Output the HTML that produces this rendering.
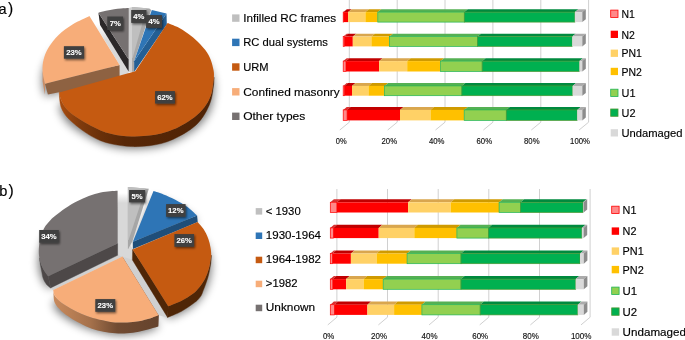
<!DOCTYPE html><html><head><meta charset="utf-8"><title>Figure</title><style>html,body{margin:0;padding:0;background:#fff}svg{display:block}text{stroke:#000;stroke-width:.15px}text.w{stroke:#fff;stroke-width:.1px}</style></head><body><svg width="685" height="340" viewBox="0 0 685 340" font-family="'Liberation Sans', Arial, sans-serif">
<defs>
<filter id="blur" x="-20%" y="-20%" width="140%" height="140%"><feGaussianBlur stdDeviation="4.6"/></filter>
<filter id="ls" x="-30%" y="-30%" width="170%" height="180%"><feDropShadow dx="1" dy="1.4" stdDeviation="1.1" flood-color="#000" flood-opacity="0.55"/></filter>
<linearGradient id="gA" gradientUnits="userSpaceOnUse" x1="60" y1="0" x2="214" y2="0"><stop offset="0" stop-color="#a94c0e"/><stop offset="0.13" stop-color="#7f3b0d"/><stop offset="0.26" stop-color="#6a3009"/><stop offset="0.42" stop-color="#572707"/><stop offset="1" stop-color="#4f2306"/></linearGradient>
<linearGradient id="gB" gradientUnits="userSpaceOnUse" x1="53" y1="0" x2="160" y2="0"><stop offset="0" stop-color="#c98a5c"/><stop offset="0.35" stop-color="#a5714b"/><stop offset="0.6" stop-color="#714b32"/><stop offset="1" stop-color="#65432d"/></linearGradient>
<linearGradient id="gGap" gradientUnits="userSpaceOnUse" x1="0" y1="193" x2="0" y2="203"><stop offset="0" stop-color="#fff"/><stop offset="1" stop-color="#d8d8d8"/></linearGradient>
<linearGradient id="gGapA" gradientUnits="userSpaceOnUse" x1="0" y1="24" x2="0" y2="40"><stop offset="0" stop-color="#fff"/><stop offset="1" stop-color="#d9d9d9"/></linearGradient>
</defs>
<rect width="685" height="340" fill="#fff"/>
<text x="-1.4" y="13.9" font-size="14.6">a<tspan x="8.1" y="13.6" font-size="15.6">)</tspan></text>
<text x="-0.8" y="196" font-size="14.6">b<tspan x="8.5" y="195.7" font-size="15.6">)</tspan></text>
<path d="M349.3 0 V122.2 L339.8 130" fill="none" stroke="#d0d0d0" stroke-width="1"/><path d="M397.2 0 V122.2 L387.7 130" fill="none" stroke="#d0d0d0" stroke-width="1"/><path d="M445 0 V122.2 L435.5 130" fill="none" stroke="#d0d0d0" stroke-width="1"/><path d="M492.9 0 V122.2 L483.4 130" fill="none" stroke="#d0d0d0" stroke-width="1"/><path d="M540.8 0 V122.2 L531.3 130" fill="none" stroke="#d0d0d0" stroke-width="1"/><path d="M588.6 0 V122.2 L579.1 130" fill="none" stroke="#d0d0d0" stroke-width="1"/><path d="M343.2,12.1 L346.7,9.3 L347,9.3 L343.5,12.1 Z" fill="#d93030" /><rect x="343.2" y="12.1" width="0.3" height="10" fill="#ff8989" stroke="#ff0000" stroke-width="0.7"/><path d="M343.5,12.1 L347,9.3 L351.6,9.3 L348.1,12.1 Z" fill="#c00000" /><rect x="343.5" y="12.1" width="4.6" height="10" fill="#ff0000" /><path d="M348.1,12.1 L351.6,9.3 L368.9,9.3 L365.4,12.1 Z" fill="#d9a64e" /><rect x="348.1" y="12.1" width="17.3" height="10" fill="#ffd166" /><path d="M365.4,12.1 L368.9,9.3 L381.3,9.3 L377.8,12.1 Z" fill="#cf9a00" /><rect x="365.4" y="12.1" width="12.4" height="10" fill="#ffc000" /><path d="M377.8,12.1 L381.3,9.3 L467.8,9.3 L464.3,12.1 Z" fill="#55b053" /><rect x="377.8" y="12.1" width="86.5" height="10" fill="#92d050" stroke="#1fb455" stroke-width="0.7"/><path d="M464.3,12.1 L467.8,9.3 L578.4,9.3 L574.9,12.1 Z" fill="#008a3e" /><rect x="464.3" y="12.1" width="110.6" height="10" fill="#00b050" stroke="#4a9832" stroke-width="0.7"/><path d="M574.9,12.1 L578.4,9.3 L585.8,9.3 L582.3,12.1 Z" fill="#ababab" /><rect x="574.9" y="12.1" width="7.4" height="10" fill="#d9d9d9" /><path d="M582.3,12.1 L585.8,9.3 L585.8,19.3 L582.3,22.1 Z" fill="#8c8c8c" /><path d="M343.2,36.6 L346.7,33.8 L348,33.8 L344.5,36.6 Z" fill="#d93030" /><rect x="343.2" y="36.6" width="1.3" height="9.8" fill="#ff8989" stroke="#ff0000" stroke-width="0.7"/><path d="M344.5,36.6 L348,33.8 L356.3,33.8 L352.8,36.6 Z" fill="#c00000" /><rect x="344.5" y="36.6" width="8.3" height="9.8" fill="#ff0000" /><path d="M352.8,36.6 L356.3,33.8 L374.9,33.8 L371.4,36.6 Z" fill="#d9a64e" /><rect x="352.8" y="36.6" width="18.6" height="9.8" fill="#ffd166" /><path d="M371.4,36.6 L374.9,33.8 L393,33.8 L389.5,36.6 Z" fill="#cf9a00" /><rect x="371.4" y="36.6" width="18.1" height="9.8" fill="#ffc000" /><path d="M389.5,36.6 L393,33.8 L481,33.8 L477.5,36.6 Z" fill="#55b053" /><rect x="389.5" y="36.6" width="88" height="9.8" fill="#92d050" stroke="#1fb455" stroke-width="0.7"/><path d="M477.5,36.6 L481,33.8 L575.7,33.8 L572.2,36.6 Z" fill="#008a3e" /><rect x="477.5" y="36.6" width="94.7" height="9.8" fill="#00b050" stroke="#4a9832" stroke-width="0.7"/><path d="M572.2,36.6 L575.7,33.8 L585.8,33.8 L582.3,36.6 Z" fill="#ababab" /><rect x="572.2" y="36.6" width="10.1" height="9.8" fill="#d9d9d9" /><path d="M582.3,36.6 L585.8,33.8 L585.8,43.6 L582.3,46.4 Z" fill="#8c8c8c" /><path d="M343.2,61.1 L346.7,58.3 L349.5,58.3 L346,61.1 Z" fill="#d93030" /><rect x="343.2" y="61.1" width="2.8" height="10.4" fill="#ff8989" stroke="#ff0000" stroke-width="0.7"/><path d="M346,61.1 L349.5,58.3 L382.6,58.3 L379.1,61.1 Z" fill="#c00000" /><rect x="346" y="61.1" width="33.1" height="10.4" fill="#ff0000" /><path d="M379.1,61.1 L382.6,58.3 L410.7,58.3 L407.2,61.1 Z" fill="#d9a64e" /><rect x="379.1" y="61.1" width="28.1" height="10.4" fill="#ffd166" /><path d="M407.2,61.1 L410.7,58.3 L444.1,58.3 L440.6,61.1 Z" fill="#cf9a00" /><rect x="407.2" y="61.1" width="33.4" height="10.4" fill="#ffc000" /><path d="M440.6,61.1 L444.1,58.3 L485.7,58.3 L482.2,61.1 Z" fill="#55b053" /><rect x="440.6" y="61.1" width="41.6" height="10.4" fill="#92d050" stroke="#1fb455" stroke-width="0.7"/><path d="M482.2,61.1 L485.7,58.3 L582.9,58.3 L579.4,61.1 Z" fill="#008a3e" /><rect x="482.2" y="61.1" width="97.2" height="10.4" fill="#00b050" stroke="#4a9832" stroke-width="0.7"/><path d="M579.4,61.1 L582.9,58.3 L585.8,58.3 L582.3,61.1 Z" fill="#ababab" /><rect x="579.4" y="61.1" width="2.9" height="10.4" fill="#d9d9d9" /><path d="M582.3,61.1 L585.8,58.3 L585.8,68.7 L582.3,71.5 Z" fill="#8c8c8c" /><path d="M343.2,85.9 L346.7,83.1 L348,83.1 L344.5,85.9 Z" fill="#d93030" /><rect x="343.2" y="85.9" width="1.3" height="9.8" fill="#ff8989" stroke="#ff0000" stroke-width="0.7"/><path d="M344.5,85.9 L348,83.1 L355.5,83.1 L352,85.9 Z" fill="#c00000" /><rect x="344.5" y="85.9" width="7.5" height="9.8" fill="#ff0000" /><path d="M352,85.9 L355.5,83.1 L372,83.1 L368.5,85.9 Z" fill="#d9a64e" /><rect x="352" y="85.9" width="16.5" height="9.8" fill="#ffd166" /><path d="M368.5,85.9 L372,83.1 L388.1,83.1 L384.6,85.9 Z" fill="#cf9a00" /><rect x="368.5" y="85.9" width="16.1" height="9.8" fill="#ffc000" /><path d="M384.6,85.9 L388.1,83.1 L465.4,83.1 L461.9,85.9 Z" fill="#55b053" /><rect x="384.6" y="85.9" width="77.3" height="9.8" fill="#92d050" stroke="#1fb455" stroke-width="0.7"/><path d="M461.9,85.9 L465.4,83.1 L576.1,83.1 L572.6,85.9 Z" fill="#008a3e" /><rect x="461.9" y="85.9" width="110.7" height="9.8" fill="#00b050" stroke="#4a9832" stroke-width="0.7"/><path d="M572.6,85.9 L576.1,83.1 L585.8,83.1 L582.3,85.9 Z" fill="#ababab" /><rect x="572.6" y="85.9" width="9.7" height="9.8" fill="#d9d9d9" /><path d="M582.3,85.9 L585.8,83.1 L585.8,92.9 L582.3,95.7 Z" fill="#8c8c8c" /><path d="M343.2,109.9 L346.7,107.1 L350.6,107.1 L347.1,109.9 Z" fill="#d93030" /><rect x="343.2" y="109.9" width="3.9" height="10.5" fill="#ff8989" stroke="#ff0000" stroke-width="0.7"/><path d="M347.1,109.9 L350.6,107.1 L403.5,107.1 L400,109.9 Z" fill="#c00000" /><rect x="347.1" y="109.9" width="52.9" height="10.5" fill="#ff0000" /><path d="M400,109.9 L403.5,107.1 L434,107.1 L430.5,109.9 Z" fill="#d9a64e" /><rect x="400" y="109.9" width="30.5" height="10.5" fill="#ffd166" /><path d="M430.5,109.9 L434,107.1 L467.7,107.1 L464.2,109.9 Z" fill="#cf9a00" /><rect x="430.5" y="109.9" width="33.7" height="10.5" fill="#ffc000" /><path d="M464.2,109.9 L467.7,107.1 L509.8,107.1 L506.3,109.9 Z" fill="#55b053" /><rect x="464.2" y="109.9" width="42.1" height="10.5" fill="#92d050" stroke="#1fb455" stroke-width="0.7"/><path d="M506.3,109.9 L509.8,107.1 L580.7,107.1 L577.2,109.9 Z" fill="#008a3e" /><rect x="506.3" y="109.9" width="70.9" height="10.5" fill="#00b050" stroke="#4a9832" stroke-width="0.7"/><path d="M577.2,109.9 L580.7,107.1 L585.8,107.1 L582.3,109.9 Z" fill="#ababab" /><rect x="577.2" y="109.9" width="5.1" height="10.5" fill="#d9d9d9" /><path d="M582.3,109.9 L585.8,107.1 L585.8,117.6 L582.3,120.4 Z" fill="#8c8c8c" /><text x="341.2" y="143.8" font-size="8.7" text-anchor="middle" fill="#1a1a1a" textLength="10.9" lengthAdjust="spacingAndGlyphs">0%</text><text x="389.3" y="143.8" font-size="8.7" text-anchor="middle" fill="#1a1a1a" textLength="15.5" lengthAdjust="spacingAndGlyphs">20%</text><text x="436.7" y="143.8" font-size="8.7" text-anchor="middle" fill="#1a1a1a" textLength="15.5" lengthAdjust="spacingAndGlyphs">40%</text><text x="484.3" y="143.8" font-size="8.7" text-anchor="middle" fill="#1a1a1a" textLength="15.5" lengthAdjust="spacingAndGlyphs">60%</text><text x="531.8" y="143.8" font-size="8.7" text-anchor="middle" fill="#1a1a1a" textLength="15.5" lengthAdjust="spacingAndGlyphs">80%</text><text x="580" y="143.8" font-size="8.7" text-anchor="middle" fill="#1a1a1a" textLength="19.8" lengthAdjust="spacingAndGlyphs">100%</text>
<path d="M336.9 189 V317.2 L327.8 324.9" fill="none" stroke="#d0d0d0" stroke-width="1"/><path d="M387.5 189 V317.2 L378.4 324.9" fill="none" stroke="#d0d0d0" stroke-width="1"/><path d="M438.2 189 V317.2 L429.1 324.9" fill="none" stroke="#d0d0d0" stroke-width="1"/><path d="M488.8 189 V317.2 L479.7 324.9" fill="none" stroke="#d0d0d0" stroke-width="1"/><path d="M539.5 189 V317.2 L530.4 324.9" fill="none" stroke="#d0d0d0" stroke-width="1"/><path d="M590.1 189 V317.2 L581 324.9" fill="none" stroke="#d0d0d0" stroke-width="1"/><path d="M330.3,202.3 L333.9,199.2 L340.5,199.2 L336.9,202.3 Z" fill="#d93030" /><rect x="330.3" y="202.3" width="6.6" height="10.2" fill="#ff8989" stroke="#ff0000" stroke-width="0.7"/><path d="M336.9,202.3 L340.5,199.2 L411.7,199.2 L408.1,202.3 Z" fill="#c00000" /><rect x="336.9" y="202.3" width="71.2" height="10.2" fill="#ff0000" /><path d="M408.1,202.3 L411.7,199.2 L454.3,199.2 L450.7,202.3 Z" fill="#d9a64e" /><rect x="408.1" y="202.3" width="42.6" height="10.2" fill="#ffd166" /><path d="M450.7,202.3 L454.3,199.2 L502.7,199.2 L499.1,202.3 Z" fill="#cf9a00" /><rect x="450.7" y="202.3" width="48.4" height="10.2" fill="#ffc000" /><path d="M499.1,202.3 L502.7,199.2 L524.1,199.2 L520.5,202.3 Z" fill="#55b053" /><rect x="499.1" y="202.3" width="21.4" height="10.2" fill="#92d050" stroke="#1fb455" stroke-width="0.7"/><path d="M520.5,202.3 L524.1,199.2 L586.6,199.2 L583,202.3 Z" fill="#008a3e" /><rect x="520.5" y="202.3" width="62.5" height="10.2" fill="#00b050" stroke="#4a9832" stroke-width="0.7"/><path d="M583,202.3 L586.6,199.2 L587.2,199.2 L583.6,202.3 Z" fill="#ababab" /><rect x="583" y="202.3" width="0.6" height="10.2" fill="#d9d9d9" /><path d="M583.6,202.3 L587.2,199.2 L587.2,209.4 L583.6,212.5 Z" fill="#8c8c8c" /><path d="M330.3,227.9 L333.9,224.8 L337,224.8 L333.4,227.9 Z" fill="#d93030" /><rect x="330.3" y="227.9" width="3.1" height="10.2" fill="#ff8989" stroke="#ff0000" stroke-width="0.7"/><path d="M333.4,227.9 L337,224.8 L382.3,224.8 L378.7,227.9 Z" fill="#c00000" /><rect x="333.4" y="227.9" width="45.3" height="10.2" fill="#ff0000" /><path d="M378.7,227.9 L382.3,224.8 L417.9,224.8 L414.3,227.9 Z" fill="#d9a64e" /><rect x="378.7" y="227.9" width="35.6" height="10.2" fill="#ffd166" /><path d="M414.3,227.9 L417.9,224.8 L460.5,224.8 L456.9,227.9 Z" fill="#cf9a00" /><rect x="414.3" y="227.9" width="42.6" height="10.2" fill="#ffc000" /><path d="M456.9,227.9 L460.5,224.8 L492,224.8 L488.4,227.9 Z" fill="#55b053" /><rect x="456.9" y="227.9" width="31.5" height="10.2" fill="#92d050" stroke="#1fb455" stroke-width="0.7"/><path d="M488.4,227.9 L492,224.8 L585.5,224.8 L581.9,227.9 Z" fill="#008a3e" /><rect x="488.4" y="227.9" width="93.5" height="10.2" fill="#00b050" stroke="#4a9832" stroke-width="0.7"/><path d="M581.9,227.9 L585.5,224.8 L587.2,224.8 L583.6,227.9 Z" fill="#ababab" /><rect x="581.9" y="227.9" width="1.7" height="10.2" fill="#d9d9d9" /><path d="M583.6,227.9 L587.2,224.8 L587.2,235 L583.6,238.1 Z" fill="#8c8c8c" /><path d="M330.3,253.5 L333.9,250.4 L336,250.4 L332.4,253.5 Z" fill="#d93030" /><rect x="330.3" y="253.5" width="2.1" height="10.2" fill="#ff8989" stroke="#ff0000" stroke-width="0.7"/><path d="M332.4,253.5 L336,250.4 L354.5,250.4 L350.9,253.5 Z" fill="#c00000" /><rect x="332.4" y="253.5" width="18.5" height="10.2" fill="#ff0000" /><path d="M350.9,253.5 L354.5,250.4 L380.2,250.4 L376.6,253.5 Z" fill="#d9a64e" /><rect x="350.9" y="253.5" width="25.7" height="10.2" fill="#ffd166" /><path d="M376.6,253.5 L380.2,250.4 L410.7,250.4 L407.1,253.5 Z" fill="#cf9a00" /><rect x="376.6" y="253.5" width="30.5" height="10.2" fill="#ffc000" /><path d="M407.1,253.5 L410.7,250.4 L464.6,250.4 L461,253.5 Z" fill="#55b053" /><rect x="407.1" y="253.5" width="53.9" height="10.2" fill="#92d050" stroke="#1fb455" stroke-width="0.7"/><path d="M461,253.5 L464.6,250.4 L583.6,250.4 L580,253.5 Z" fill="#008a3e" /><rect x="461" y="253.5" width="119" height="10.2" fill="#00b050" stroke="#4a9832" stroke-width="0.7"/><path d="M580,253.5 L583.6,250.4 L587.4,250.4 L583.8,253.5 Z" fill="#ababab" /><rect x="580" y="253.5" width="3.8" height="10.2" fill="#d9d9d9" /><path d="M583.8,253.5 L587.4,250.4 L587.4,260.6 L583.8,263.7 Z" fill="#8c8c8c" /><path d="M330.3,279.1 L333.9,276 L336.4,276 L332.8,279.1 Z" fill="#d93030" /><rect x="330.3" y="279.1" width="2.5" height="10.2" fill="#ff8989" stroke="#ff0000" stroke-width="0.7"/><path d="M332.8,279.1 L336.4,276 L349.7,276 L346.1,279.1 Z" fill="#c00000" /><rect x="332.8" y="279.1" width="13.3" height="10.2" fill="#ff0000" /><path d="M346.1,279.1 L349.7,276 L367.2,276 L363.6,279.1 Z" fill="#d9a64e" /><rect x="346.1" y="279.1" width="17.5" height="10.2" fill="#ffd166" /><path d="M363.6,279.1 L367.2,276 L386.8,276 L383.2,279.1 Z" fill="#cf9a00" /><rect x="363.6" y="279.1" width="19.6" height="10.2" fill="#ffc000" /><path d="M383.2,279.1 L386.8,276 L464.6,276 L461,279.1 Z" fill="#55b053" /><rect x="383.2" y="279.1" width="77.8" height="10.2" fill="#92d050" stroke="#1fb455" stroke-width="0.7"/><path d="M461,279.1 L464.6,276 L579.3,276 L575.7,279.1 Z" fill="#008a3e" /><rect x="461" y="279.1" width="114.7" height="10.2" fill="#00b050" stroke="#4a9832" stroke-width="0.7"/><path d="M575.7,279.1 L579.3,276 L587.4,276 L583.8,279.1 Z" fill="#ababab" /><rect x="575.7" y="279.1" width="8.1" height="10.2" fill="#d9d9d9" /><path d="M583.8,279.1 L587.4,276 L587.4,286.2 L583.8,289.3 Z" fill="#8c8c8c" /><path d="M330.3,304.7 L333.9,301.6 L338,301.6 L334.4,304.7 Z" fill="#d93030" /><rect x="330.3" y="304.7" width="4.1" height="10.2" fill="#ff8989" stroke="#ff0000" stroke-width="0.7"/><path d="M334.4,304.7 L338,301.6 L371,301.6 L367.4,304.7 Z" fill="#c00000" /><rect x="334.4" y="304.7" width="33" height="10.2" fill="#ff0000" /><path d="M367.4,304.7 L371,301.6 L397.7,301.6 L394.1,304.7 Z" fill="#d9a64e" /><rect x="367.4" y="304.7" width="26.7" height="10.2" fill="#ffd166" /><path d="M394.1,304.7 L397.7,301.6 L425.5,301.6 L421.9,304.7 Z" fill="#cf9a00" /><rect x="394.1" y="304.7" width="27.8" height="10.2" fill="#ffc000" /><path d="M421.9,304.7 L425.5,301.6 L483.8,301.6 L480.2,304.7 Z" fill="#55b053" /><rect x="421.9" y="304.7" width="58.3" height="10.2" fill="#92d050" stroke="#1fb455" stroke-width="0.7"/><path d="M480.2,304.7 L483.8,301.6 L581.4,301.6 L577.8,304.7 Z" fill="#008a3e" /><rect x="480.2" y="304.7" width="97.6" height="10.2" fill="#00b050" stroke="#4a9832" stroke-width="0.7"/><path d="M577.8,304.7 L581.4,301.6 L587.4,301.6 L583.8,304.7 Z" fill="#ababab" /><rect x="577.8" y="304.7" width="6" height="10.2" fill="#d9d9d9" /><path d="M583.8,304.7 L587.4,301.6 L587.4,311.8 L583.8,314.9 Z" fill="#8c8c8c" /><text x="328.6" y="339.3" font-size="8.9" text-anchor="middle" fill="#1a1a1a" textLength="11.4" lengthAdjust="spacingAndGlyphs">0%</text><text x="379.1" y="339.3" font-size="8.9" text-anchor="middle" fill="#1a1a1a" textLength="16" lengthAdjust="spacingAndGlyphs">20%</text><text x="429.5" y="339.3" font-size="8.9" text-anchor="middle" fill="#1a1a1a" textLength="16" lengthAdjust="spacingAndGlyphs">40%</text><text x="480.2" y="339.3" font-size="8.9" text-anchor="middle" fill="#1a1a1a" textLength="16" lengthAdjust="spacingAndGlyphs">60%</text><text x="530.8" y="339.3" font-size="8.9" text-anchor="middle" fill="#1a1a1a" textLength="16" lengthAdjust="spacingAndGlyphs">80%</text><text x="581.2" y="339.3" font-size="8.9" text-anchor="middle" fill="#1a1a1a" textLength="20.6" lengthAdjust="spacingAndGlyphs">100%</text>
<rect x="232.1" y="14.4" width="7.4" height="7.4" fill="#bfbfbf"/><text x="243.2" y="22" font-size="11.6" textLength="93" lengthAdjust="spacingAndGlyphs">Infilled RC frames</text><rect x="232.1" y="38.7" width="7.4" height="7.4" fill="#2e75b6"/><text x="243.2" y="46.3" font-size="11.6" textLength="84.7" lengthAdjust="spacingAndGlyphs">RC dual systems</text><rect x="232.1" y="63.3" width="7.4" height="7.4" fill="#c55a11"/><text x="243.2" y="70.9" font-size="11.6" textLength="25.4" lengthAdjust="spacingAndGlyphs">URM</text><rect x="232.1" y="88.1" width="7.4" height="7.4" fill="#f7ad79"/><text x="243.2" y="95.7" font-size="11.6" textLength="96.5" lengthAdjust="spacingAndGlyphs">Confined masonry</text><rect x="232.1" y="112.6" width="7.4" height="7.4" fill="#767171"/><text x="243.2" y="120.2" font-size="11.6" textLength="62.1" lengthAdjust="spacingAndGlyphs">Other types</text>
<rect x="610.7" y="10.1" width="7.3" height="7.3" fill="#ff8989" stroke="#ff0000" stroke-width="0.8"/><text x="621.5" y="17.9" font-size="11.3" textLength="13.4" lengthAdjust="spacingAndGlyphs">N1</text><rect x="610.7" y="30.7" width="7.3" height="7.3" fill="#ff0000" /><text x="621.5" y="38.5" font-size="11.3" textLength="13.4" lengthAdjust="spacingAndGlyphs">N2</text><rect x="610.7" y="49.6" width="7.3" height="7.3" fill="#ffd166" /><text x="621.5" y="57.4" font-size="11.3" textLength="20.4" lengthAdjust="spacingAndGlyphs">PN1</text><rect x="610.7" y="67.8" width="7.3" height="7.3" fill="#ffc000" /><text x="621.5" y="75.6" font-size="11.3" textLength="20.4" lengthAdjust="spacingAndGlyphs">PN2</text><rect x="610.7" y="89.2" width="7.3" height="7.3" fill="#92d050" stroke="#1fb455" stroke-width="0.8"/><text x="621.5" y="97" font-size="11.3" textLength="14" lengthAdjust="spacingAndGlyphs">U1</text><rect x="610.7" y="109" width="7.3" height="7.3" fill="#00b050" stroke="#4a9832" stroke-width="0.8"/><text x="621.5" y="116.8" font-size="11.3" textLength="14" lengthAdjust="spacingAndGlyphs">U2</text><rect x="610.7" y="129.2" width="7.3" height="7.3" fill="#d9d9d9" /><text x="621.5" y="137" font-size="11.3" textLength="61" lengthAdjust="spacingAndGlyphs">Undamaged</text>
<rect x="255.7" y="208.1" width="6.5" height="6.5" fill="#bfbfbf"/><text x="265.8" y="214.8" font-size="11" textLength="34.9" lengthAdjust="spacingAndGlyphs">&lt; 1930</text><rect x="255.7" y="232.5" width="6.5" height="6.5" fill="#2e75b6"/><text x="265.8" y="239.2" font-size="11" textLength="55.2" lengthAdjust="spacingAndGlyphs">1930-1964</text><rect x="255.7" y="256.7" width="6.5" height="6.5" fill="#c55a11"/><text x="265.8" y="263.4" font-size="11" textLength="55.2" lengthAdjust="spacingAndGlyphs">1964-1982</text><rect x="255.7" y="280.7" width="6.5" height="6.5" fill="#f7ad79"/><text x="265.8" y="287.4" font-size="11" textLength="31.7" lengthAdjust="spacingAndGlyphs">&gt;1982</text><rect x="255.7" y="304.7" width="6.5" height="6.5" fill="#767171"/><text x="265.8" y="311.4" font-size="11" textLength="49.3" lengthAdjust="spacingAndGlyphs">Unknown</text>
<rect x="611.7" y="206.2" width="7.4" height="7.4" fill="#ff8989" stroke="#ff0000" stroke-width="0.8"/><text x="622.6" y="214.1" font-size="11" textLength="13.9" lengthAdjust="spacingAndGlyphs">N1</text><rect x="611.7" y="227.4" width="7.4" height="7.4" fill="#ff0000" /><text x="622.6" y="235.3" font-size="11" textLength="13.9" lengthAdjust="spacingAndGlyphs">N2</text><rect x="611.7" y="247.4" width="7.4" height="7.4" fill="#ffd166" /><text x="622.6" y="255.3" font-size="11" textLength="21.2" lengthAdjust="spacingAndGlyphs">PN1</text><rect x="611.7" y="265.9" width="7.4" height="7.4" fill="#ffc000" /><text x="622.6" y="273.8" font-size="11" textLength="21.2" lengthAdjust="spacingAndGlyphs">PN2</text><rect x="611.7" y="287.1" width="7.4" height="7.4" fill="#92d050" stroke="#1fb455" stroke-width="0.8"/><text x="622.6" y="295" font-size="11" textLength="14.6" lengthAdjust="spacingAndGlyphs">U1</text><rect x="611.7" y="307.9" width="7.4" height="7.4" fill="#00b050" stroke="#4a9832" stroke-width="0.8"/><text x="622.6" y="315.8" font-size="11" textLength="14.6" lengthAdjust="spacingAndGlyphs">U2</text><rect x="611.7" y="328.3" width="7.4" height="7.4" fill="#d9d9d9" /><text x="622.6" y="336.2" font-size="11" textLength="63.4" lengthAdjust="spacingAndGlyphs">Undamaged</text>
<g filter="url(#blur)" opacity="0.55"><path d="M135.3,83.2 L167.6,34.9 C169.3,35.6 174.3,37.4 177.6,39.1C180.8,40.8 184.1,42.9 187.1,44.9C190.1,46.9 192.3,48.5 195.3,51.4C198.3,54.2 202.8,58.7 205.3,62C207.9,65.3 209.2,68.1 210.6,71.4C212,74.7 212.9,79.1 213.5,82C214.1,84.9 214,86.5 213.9,89C213.8,91.5 213.3,94.3 212.9,97C212.5,99.7 212.4,102.3 211.5,105.2C210.6,108.1 209.4,111.5 207.6,114.6C205.8,117.7 203.3,121 200.6,123.8C197.9,126.6 194.8,129 191.2,131.6C187.6,134.2 182.8,137.1 178.8,139.1C174.8,141.1 171,142.5 167.1,143.8C163.2,145.1 159.2,146 155.3,146.7C151.4,147.4 147.4,147.8 143.5,148.1C139.6,148.4 135.5,148.5 131.8,148.4C128.1,148.3 124.7,148.1 121.2,147.7C117.7,147.3 114.3,146.7 110.9,145.8C107.5,144.9 104,143.8 100.6,142.4C97.2,141 93.7,139.3 90.3,137.5C86.9,135.7 83,133.5 80,131.6C77,129.7 74.4,128.1 72.1,126.3C69.8,124.5 67.9,122.7 66.3,120.8C64.7,118.9 63.4,116.6 62.4,114.7C61.4,112.8 60.7,111.1 60.2,109.4C59.7,107.7 59.4,105.2 59.3,104.4 Z" fill="#000" /><path d="M119.6,76.9 L45,95.8 C44.6,93.7 42.8,87 42.6,82.9C42.4,78.8 42.6,75.3 43.6,71.4C44.6,67.5 46.1,63.7 48.6,59.6C51.1,55.5 54.5,50.9 58.6,47C62.7,43.1 67.8,39.5 72.9,36.3C78,33.1 86.7,29.4 89.4,28 Z" fill="#000" /></g><path d="M128.8,8 L132.2,7.1 L133.6,60 L133.6,72 L128.8,72 Z" fill="#d2d2d2" /><path d="M93,21 L98.5,21 L100.1,25 L128.6,71.8 L128.6,74.5 L119.6,76 L119.6,64.9 Z" fill="url(#gGapA)" /><path d="M98.4,12.7 L128.7,59.4 L128.7,71.8 L100.1,25 Z" fill="#2b2829" /><path d="M128.7,59.4 L98.4,12.7 C99.7,12.4 103.4,11.4 106,10.8C108.6,10.2 111.6,9.6 114.1,9.2C116.6,8.8 118.5,8.6 121,8.4C123.5,8.2 127.5,8.1 128.8,8 Z" fill="#767171" /><path d="M132,7.1 L149.4,8.5 L151.2,10 L134.1,61.2 L134.1,71.8 L132,71.8 Z" fill="#a8a8a8" /><path d="M132,7.1 L146.6,8.3 L132.6,58 L132,58 Z" fill="#bfbfbf" /><path d="M166.5,13.5 L134.1,61.2 L134.1,72 L166.8,24.5 Z" fill="#245f94" /><path d="M151.8,10 L166.5,13.5 L134.1,61.2 Z" fill="#2e75b6" /><path d="M119.6,64.9 L45,83.8 L47.9,94.5 L59,92.3 L61,93.5 L119.6,78 Z" fill="#8e6242" /><path d="M45,83.8 C44.6,81.7 43,73.1 42.6,70.9 L42.6,81.6 C43,83.8 44.6,92.3 45,94.5 Z" fill="#c98d66" /><path d="M119.6,64.9 L45,83.8 C44.6,81.7 42.8,75 42.6,70.9C42.4,66.8 42.6,63.3 43.6,59.4C44.6,55.5 46.1,51.7 48.6,47.6C51.1,43.5 54.5,38.9 58.6,35C62.7,31.1 67.8,27.5 72.9,24.3C78,21.1 86.7,17.4 89.4,16 Z" fill="#f7ad79" /><path d="M213.9,77 C213.7,78.3 213.3,82.3 212.9,85C212.5,87.7 212.4,90.3 211.5,93.2C210.6,96.1 209.4,99.5 207.6,102.6C205.8,105.7 203.3,109 200.6,111.8C197.9,114.6 194.8,117 191.2,119.6C187.6,122.1 182.8,125.1 178.8,127.1C174.8,129.1 171,130.5 167.1,131.8C163.2,133.1 159.2,134 155.3,134.7C151.4,135.4 147.4,135.8 143.5,136.1C139.6,136.4 135.5,136.5 131.8,136.4C128.1,136.3 124.7,136.1 121.2,135.7C117.7,135.3 114.3,134.7 110.9,133.8C107.5,132.9 104,131.8 100.6,130.4C97.2,129 93.7,127.3 90.3,125.5C86.9,123.7 83,121.5 80,119.6C77,117.7 74.4,116.1 72.1,114.3C69.8,112.5 67.9,110.7 66.3,108.8C64.7,106.9 63.4,104.6 62.4,102.7C61.4,100.8 60.7,99.1 60.2,97.4C59.7,95.7 59.4,93.2 59.3,92.4 L59.3,92.4 C59.4,93.7 59.4,97.5 59.7,100C60,102.5 60.3,104.9 61,107.1C61.7,109.3 62.9,111.3 64.1,113.2C65.3,115.1 66.5,116.6 68,118.2C69.5,119.8 71.2,121.3 73.2,123C75.2,124.7 77.2,126.5 80,128.6C82.8,130.7 86.9,133.6 90.3,135.6C93.7,137.6 97.2,139.3 100.6,140.7C104,142.1 107.5,143 110.9,143.8C114.3,144.6 117.7,145.1 121.2,145.6C124.7,146.1 128.1,146.5 131.8,146.6C135.5,146.7 139.6,146.6 143.5,146.3C147.4,146 151.4,145.6 155.3,144.8C159.2,144.1 163.2,143.2 167.1,141.8C171,140.4 174.9,138.6 178.8,136.5C182.7,134.4 187.2,131.9 190.6,129.4C194,126.9 196.8,124.6 199.4,121.5C202.1,118.4 204.5,114.6 206.5,110.9C208.5,107.2 210.1,103.4 211.3,99.1C212.5,94.8 213.1,88.4 213.6,85C214.1,81.6 214,79.6 214.1,78.5 Z" fill="url(#gA)" stroke="url(#gA)" stroke-width="0.4"/><path d="M135.3,71.2 L167.6,22.9 C169.3,23.6 174.3,25.4 177.6,27.1C180.8,28.8 184.1,30.8 187.1,32.9C190.1,34.9 192.3,36.5 195.3,39.4C198.3,42.2 202.8,46.7 205.3,50C207.9,53.3 209.2,56.1 210.6,59.4C212,62.7 212.9,67.1 213.5,70C214.1,72.9 214,74.5 213.9,77C213.8,79.5 213.3,82.3 212.9,85C212.5,87.7 212.4,90.3 211.5,93.2C210.6,96.1 209.4,99.5 207.6,102.6C205.8,105.7 203.3,109 200.6,111.8C197.9,114.6 194.8,117 191.2,119.6C187.6,122.1 182.8,125.1 178.8,127.1C174.8,129.1 171,130.5 167.1,131.8C163.2,133.1 159.2,134 155.3,134.7C151.4,135.4 147.4,135.8 143.5,136.1C139.6,136.4 135.5,136.5 131.8,136.4C128.1,136.3 124.7,136.1 121.2,135.7C117.7,135.3 114.3,134.7 110.9,133.8C107.5,132.9 104,131.8 100.6,130.4C97.2,129 93.7,127.3 90.3,125.5C86.9,123.7 83,121.5 80,119.6C77,117.7 74.4,116.1 72.1,114.3C69.8,112.5 67.9,110.7 66.3,108.8C64.7,106.9 63.4,104.6 62.4,102.7C61.4,100.8 60.7,99.1 60.2,97.4C59.7,95.7 59.4,93.2 59.3,92.4 Z" fill="#c55a11" /><rect x="107.3" y="16.5" width="15.7" height="13.5" fill="#404040" filter="url(#ls)"/><text x="115.2" y="26" font-size="7.7" class="w" font-weight="bold" fill="#fff" text-anchor="middle">7%</text><rect x="131.2" y="10" width="15.3" height="12.9" fill="#404040" filter="url(#ls)"/><text x="138.8" y="19.2" font-size="7.7" class="w" font-weight="bold" fill="#fff" text-anchor="middle">4%</text><rect x="146.1" y="15.1" width="15.9" height="12.8" fill="#404040" filter="url(#ls)"/><text x="154.1" y="24.3" font-size="7.7" class="w" font-weight="bold" fill="#fff" text-anchor="middle">4%</text><rect x="63.9" y="46.2" width="20.2" height="12.5" fill="#404040" filter="url(#ls)"/><text x="74" y="55.2" font-size="7.7" class="w" font-weight="bold" fill="#fff" text-anchor="middle">23%</text><rect x="155.1" y="91.1" width="19.8" height="12.5" fill="#404040" filter="url(#ls)"/><text x="165" y="100.1" font-size="7.7" class="w" font-weight="bold" fill="#fff" text-anchor="middle">62%</text>
<g filter="url(#blur)" opacity="0.55"><path d="M117.6,255.5 L117.6,202.8 C116.3,202.9 112.8,202.9 110,203.2C107.2,203.5 104.1,203.6 100.6,204.4C97.1,205.2 92.7,206.4 88.8,207.9C84.9,209.4 81,211.1 77.1,213.2C73.2,215.2 68.8,217.8 65.3,220.2C61.8,222.5 58.3,225.3 55.9,227.3C53.5,229.3 52.6,229.8 50.6,232C48.6,234.2 45.9,236.9 44.1,240.2C42.3,243.5 40.9,248.3 40,252C39.1,255.7 38.9,259.6 38.8,262.6C38.7,265.6 39,267.7 39.4,270C39.8,272.3 40.3,274.1 41.2,276.4C42.1,278.6 43.5,281.5 44.7,283.5C45.9,285.5 47.6,287.4 48.2,288.2 Z" fill="#000" /><path d="M132.6,261.4 L197.6,234.1 C198.6,235.3 201.7,238.4 203.5,241.1C205.3,243.8 207,247.4 208.2,250.5C209.4,253.6 210.1,257.1 210.6,259.9C211.1,262.6 211.2,265.1 211.2,267C211.2,268.9 211,269.1 210.6,271.4C210.2,273.7 209.7,277.7 208.8,280.8C207.9,283.9 206.8,287.2 205.3,290.2C203.8,293.2 201.7,296.4 199.6,299C197.5,301.6 196,303.5 192.9,305.8C189.8,308.1 185.3,310.8 181.2,312.9C177.1,315 170.4,317.3 168.2,318.2 Z" fill="#000" /><path d="M122.4,268.4 L53.2,301.9 C53.5,302.8 53.4,305.5 54.7,307.6C56,309.7 58.6,312.5 61.2,314.6C63.9,316.8 67.3,318.6 70.6,320.5C73.9,322.4 77.5,324.2 81.2,325.8C84.9,327.4 88.8,328.7 92.9,329.9C97,331.1 102.2,332.1 105.9,332.9C109.6,333.6 111.8,334.1 115.3,334.4C118.8,334.6 123.2,334.6 127.1,334.4C131,334.2 134.9,333.9 138.8,333.2C142.7,332.5 147.3,331.2 150.6,330.2C153.9,329.2 157.3,327.8 158.6,327.3 Z" fill="#000" /><path d="M132.9,248.8 L153.5,198.1 C155.2,198.7 159.9,200 163.5,201.4C167.1,202.8 171.4,204.6 175.3,206.7C179.2,208.8 183.5,211.2 187.1,213.8C190.7,216.5 195.4,221.1 197.1,222.6 Z" fill="#000" /></g><path d="M117.6,193 L128,193 L128,240 L132.5,249 L132.5,262 L122.4,256.4 L117.6,259 Z" fill="url(#gGap)" /><path d="M48.2,276.2 L117.6,255.3 L122.4,256.4 L53.2,289.9 L50.6,288.5 Z" fill="#d0d0d0" /><path d="M122.4,256.4 L132.4,259.7 L167.6,317.4 L158.6,315.3 Z" fill="#d0d0d0" /><path d="M127.9,187.1 L148.8,188.8 L132.4,241.2 L128.2,249 L127.9,249 Z" fill="#a6a6a6" /><path d="M127.9,187.1 L145.6,188.5 L128.6,240 L127.9,240 Z" fill="#bfbfbf" /><path d="M132.9,241.8 L197.1,215.6 L197.7,222.1 L132.9,248.9 Z" fill="#1f4e79" /><path d="M132.9,241.8 L153.5,191.1 C155.2,191.7 159.9,193 163.5,194.4C167.1,195.8 171.4,197.6 175.3,199.7C179.2,201.8 183.5,204.2 187.1,206.8C190.7,209.5 195.4,214.1 197.1,215.6 Z" fill="#2e75b6" /><path d="M117.6,243.5 L48.2,276.2 L50.6,287.9 L117.6,255.3 Z" fill="#4d4848" stroke="#4d4848" stroke-width="0.4"/><path d="M39.4,258 C39.7,259.1 40.3,262.1 41.2,264.4C42.1,266.6 43.5,269.5 44.7,271.5C45.9,273.5 47.6,275.4 48.2,276.2 L50.6,287.9 C49.9,287.3 47.7,285.9 46.5,284.4C45.3,282.9 44.1,280.8 43.3,278.8C42.5,276.8 42.3,274.6 41.9,272.5C41.5,270.4 41,268.2 40.6,266C40.2,263.8 39.8,260.2 39.6,259 Z" fill="#4d4848" stroke="#4d4848" stroke-width="0.4"/><path d="M117.6,243.5 L117.6,190.8 C116.3,190.9 112.8,190.9 110,191.2C107.2,191.5 104.1,191.6 100.6,192.4C97.1,193.2 92.7,194.4 88.8,195.9C84.9,197.4 81,199.1 77.1,201.2C73.2,203.2 68.8,205.8 65.3,208.2C61.8,210.5 58.3,213.3 55.9,215.3C53.5,217.3 52.6,217.8 50.6,220C48.6,222.2 45.9,224.9 44.1,228.2C42.3,231.5 40.9,236.3 40,240C39.1,243.7 38.9,247.6 38.8,250.6C38.7,253.6 39,255.7 39.4,258C39.8,260.3 40.3,262.1 41.2,264.4C42.1,266.6 43.5,269.5 44.7,271.5C45.9,273.5 47.6,275.4 48.2,276.2 Z" fill="#767171" /><path d="M132.6,249.4 L168.2,306.2 L167.6,317.4 L132.4,259.9 Z" fill="#4f2607" stroke="#4f2607" stroke-width="0.4"/><path d="M211.2,255 C211.1,255.7 211,257.1 210.6,259.4C210.2,261.7 209.7,265.7 208.8,268.8C207.9,271.9 206.8,275.2 205.3,278.2C203.8,281.2 201.7,284.4 199.6,287C197.5,289.6 196,291.5 192.9,293.8C189.8,296.1 185.3,298.8 181.2,300.9C177.1,303 170.4,305.3 168.2,306.2 L167.6,317.4 C169.9,316.4 177,313.8 181.2,311.5C185.4,309.2 190.2,305.7 192.9,303.8C195.6,301.9 196.2,301.4 197.6,300C199,298.6 200.2,297.3 201.2,295.6C202.2,293.9 202.5,292.3 203.4,290C204.3,287.7 205.5,284.8 206.4,282C207.3,279.2 208.2,276.8 208.9,273.5C209.7,270.2 210.5,265.4 210.9,262.5C211.3,259.6 211.2,257.1 211.3,256 Z" fill="#4f2607" stroke="#4f2607" stroke-width="0.4"/><path d="M132.6,249.4 L197.6,222.1 C198.6,223.3 201.7,226.4 203.5,229.1C205.3,231.8 207,235.4 208.2,238.5C209.4,241.6 210.1,245.2 210.6,247.9C211.1,250.7 211.2,253.1 211.2,255C211.2,256.9 211,257.1 210.6,259.4C210.2,261.7 209.7,265.7 208.8,268.8C207.9,271.9 206.8,275.2 205.3,278.2C203.8,281.2 201.7,284.4 199.6,287C197.5,289.6 196,291.5 192.9,293.8C189.8,296.1 185.3,298.8 181.2,300.9C177.1,303 170.4,305.3 168.2,306.2 Z" fill="#c55a11" /><path d="M122.4,256.4 L158.6,315.3 L158.2,326.5 L122.4,266 Z" fill="#6b4630" /><path d="M53.2,289.9 C53.5,290.8 53.4,293.5 54.7,295.6C56,297.7 58.6,300.5 61.2,302.6C63.9,304.8 67.3,306.6 70.6,308.5C73.9,310.4 77.5,312.2 81.2,313.8C84.9,315.4 88.8,316.7 92.9,317.9C97,319.1 102.2,320.1 105.9,320.9C109.6,321.6 111.8,322.1 115.3,322.4C118.8,322.6 123.2,322.6 127.1,322.4C131,322.2 134.9,321.9 138.8,321.2C142.7,320.5 147.3,319.2 150.6,318.2C153.9,317.2 157.3,315.8 158.6,315.3 L158.2,326.5 C156.9,326.9 153.8,327.9 150.6,328.8C147.4,329.7 142.7,331.1 138.8,331.8C134.9,332.6 131,333.1 127.1,333.3C123.2,333.6 119.2,333.6 115.3,333.3C111.4,333.1 107.4,332.6 103.5,331.8C99.6,331.1 95.7,330.2 91.8,328.8C87.9,327.4 83.5,325.1 80,323.3C76.5,321.5 73.7,320 70.6,317.9C67.5,315.8 63.9,313.4 61.2,310.9C58.6,308.3 56,305.9 54.7,302.6C53.4,299.3 53.6,292.9 53.4,291 Z" fill="url(#gB)" /><path d="M122.4,256.4 L53.2,289.9 C53.5,290.8 53.4,293.5 54.7,295.6C56,297.7 58.6,300.5 61.2,302.6C63.9,304.8 67.3,306.6 70.6,308.5C73.9,310.4 77.5,312.2 81.2,313.8C84.9,315.4 88.8,316.7 92.9,317.9C97,319.1 102.2,320.1 105.9,320.9C109.6,321.6 111.8,322.1 115.3,322.4C118.8,322.6 123.2,322.6 127.1,322.4C131,322.2 134.9,321.9 138.8,321.2C142.7,320.5 147.3,319.2 150.6,318.2C153.9,317.2 157.3,315.8 158.6,315.3 Z" fill="#f7ad79" /><rect x="39.2" y="230" width="19.6" height="12.7" fill="#404040" filter="url(#ls)"/><text x="49" y="239.1" font-size="7.7" class="w" font-weight="bold" fill="#fff" text-anchor="middle">34%</text><rect x="129.1" y="190" width="16" height="12.4" fill="#404040" filter="url(#ls)"/><text x="137.1" y="199" font-size="7.7" class="w" font-weight="bold" fill="#fff" text-anchor="middle">5%</text><rect x="166.1" y="204.1" width="19.5" height="12.7" fill="#404040" filter="url(#ls)"/><text x="175.8" y="213.2" font-size="7.7" class="w" font-weight="bold" fill="#fff" text-anchor="middle">12%</text><rect x="174.4" y="234.1" width="19.7" height="12.7" fill="#404040" filter="url(#ls)"/><text x="184.2" y="243.2" font-size="7.7" class="w" font-weight="bold" fill="#fff" text-anchor="middle">26%</text><rect x="95.3" y="299.1" width="20" height="12.7" fill="#404040" filter="url(#ls)"/><text x="105.3" y="308.2" font-size="7.7" class="w" font-weight="bold" fill="#fff" text-anchor="middle">23%</text>
</svg></body></html>
